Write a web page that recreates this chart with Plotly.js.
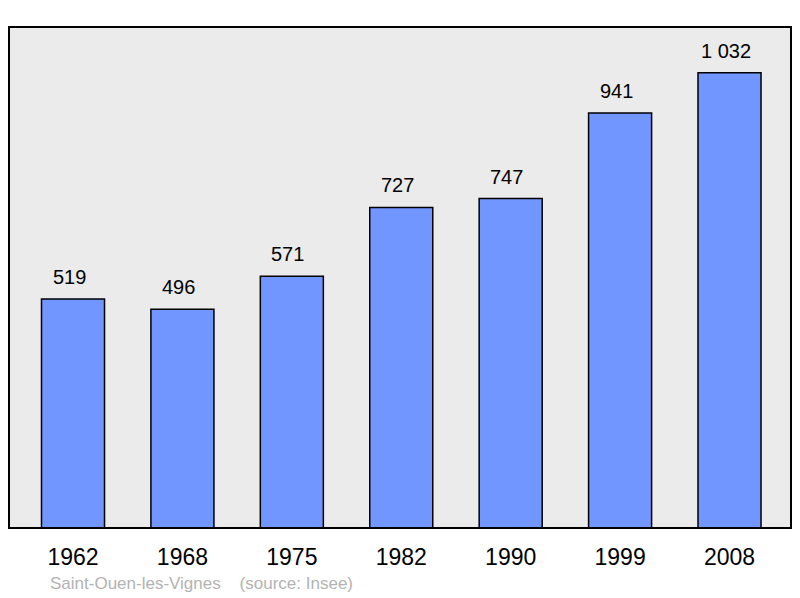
<!DOCTYPE html>
<html>
<head>
<meta charset="utf-8">
<script src="https://cdn.plot.ly/plotly-3.0.1.min.js"></script>
<style>html,body{margin:0;padding:0;background:#fff;}#chart{width:800px;height:598px;}</style>
</head>
<body>
<div id="chart"></div>
<script>
const years = ['1962', '1968', '1975', '1982', '1990', '1999', '2008'];
const population = [519, 496, 571, 727, 747, 941, 1032];
const valueLabels = ['519', '496', '571', '727', '747', '941', '1 032'];
const footer = 'Saint-Ouen-les-Vignes\u00a0\u00a0\u00a0\u00a0(source: Insee)';

const font = 'Liberation Sans, Arial, sans-serif';

const trace = {
  type: 'bar',
  x: years,
  y: population,
  width: 0.576,
  marker: {color: '#7296ff', line: {color: '#000', width: 1.5}},
  hoverinfo: 'none'
};

const L = 9, R = 9, T = 27, B = 70, W = 800, H = 598;
const pw = W - L - R, ph = H - T - B;

const annotations = years.map((yr, i) => ({
  x: i, y: population[i], xref: 'x', yref: 'y',
  text: valueLabels[i], showarrow: false,
  yanchor: 'bottom', yshift: 9, xshift: -4,
  font: {family: font, size: 20, color: '#000'}
}));
annotations.push({
  x: (48 - L) / pw, y: (H - B - 583.5) / ph, xref: 'paper', yref: 'paper',
  text: footer, showarrow: false,
  font: {family: font, size: 17, color: '#b3b3b3'}, xanchor: 'left', yanchor: 'middle'
});

const layout = {
  width: W, height: H,
  margin: {l: L, r: R, t: T, b: B, pad: 0},
  paper_bgcolor: '#ffffff',
  plot_bgcolor: '#ebebeb',
  showlegend: false,
  xaxis: {
    type: 'category',
    range: [-0.585, 6.562],
    showgrid: false, zeroline: false, showline: false,
    ticks: '', ticklabelstandoff: 13,
    tickfont: {family: font, size: 23, color: '#000'},
    fixedrange: true
  },
  yaxis: {
    range: [0, 1136],
    showgrid: false, zeroline: false, showline: false,
    showticklabels: false, ticks: '',
    fixedrange: true
  },
  annotations: annotations,
  shapes: [{
    type: 'rect', xref: 'paper', yref: 'paper',
    x0: 0, x1: 1, y0: 0, y1: 1,
    line: {color: '#000', width: 2}, layer: 'above'
  }]
};

Plotly.newPlot('chart', [trace], layout, {displayModeBar: false, staticPlot: true});
</script>
</body>
</html>
